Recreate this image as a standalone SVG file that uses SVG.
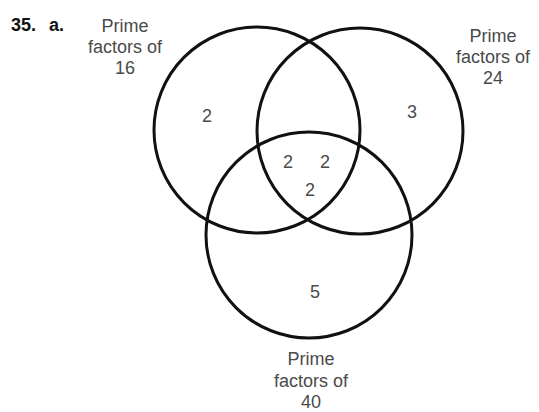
<svg xmlns="http://www.w3.org/2000/svg" width="539" height="412" viewBox="0 0 539 412">
<style>
.c{fill:none;stroke:#111;stroke-width:3}
.t{font-family:"Liberation Sans",Arial,sans-serif;font-size:18px;fill:#4a4a4a;text-anchor:middle}
.n{font-family:"Liberation Sans",Arial,sans-serif;font-size:18px;fill:#4a4a4a;text-anchor:middle}
.h{font-family:"Liberation Sans",Arial,sans-serif;font-size:18px;font-weight:bold;fill:#111}
</style>
<rect width="539" height="412" fill="#fff"/>
<text class="h" x="11" y="31">35.</text>
<text class="h" x="49" y="31">a.</text>
<g id="set16">
<circle class="c" cx="257" cy="130" r="103"/>
<text class="t"><tspan x="125" y="32">Prime</tspan><tspan x="125" y="53">factors of</tspan><tspan x="125" y="74">16</tspan></text>
<text class="n" x="207" y="122">2</text>
</g>
<g id="set24">
<circle class="c" cx="360" cy="131" r="103"/>
<text class="t"><tspan x="493" y="42">Prime</tspan><tspan x="493" y="63">factors of</tspan><tspan x="493" y="84">24</tspan></text>
<text class="n" x="412" y="118">3</text>
</g>
<g id="set40">
<circle class="c" cx="309" cy="235" r="103"/>
<text class="t"><tspan x="311" y="365">Prime</tspan><tspan x="311" y="387">factors of</tspan><tspan x="311" y="408">40</tspan></text>
<text class="n" x="315" y="298">5</text>
</g>
<g id="common">
<text class="n" x="288" y="168">2</text>
<text class="n" x="325" y="168">2</text>
<text class="n" x="310" y="196">2</text>
</g>
</svg>
